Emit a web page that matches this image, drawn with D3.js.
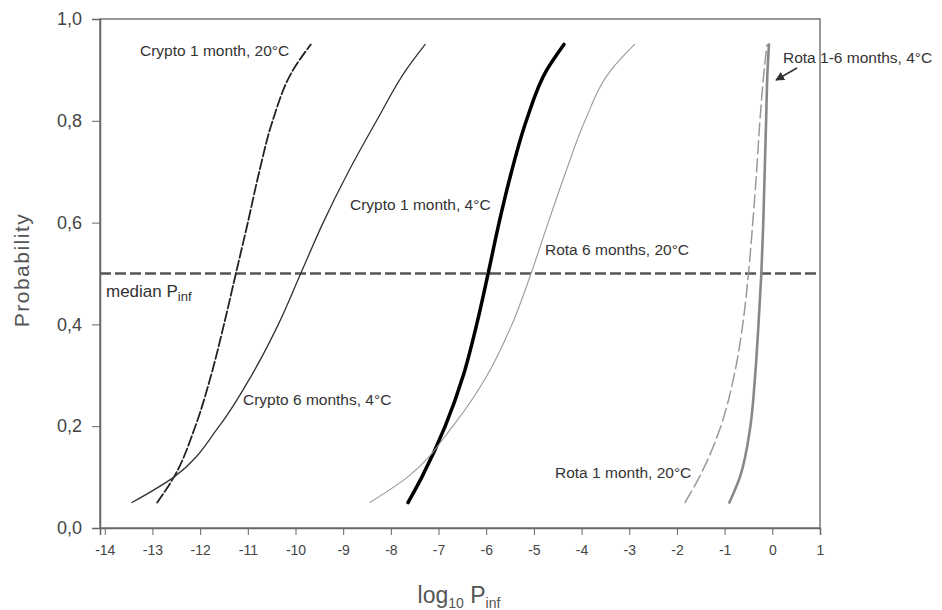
<!DOCTYPE html>
<html>
<head>
<meta charset="utf-8">
<script src="https://cdn.jsdelivr.net/npm/d3@7"></script>
<style>
  body { margin: 0; background: #fff; }
  svg { display: block; font-family: "Liberation Sans", Arial, sans-serif; }
</style>
</head>
<body>
<svg width="942" height="610"></svg>
<script>
// probability levels shared by all curves
let probLevels = [0.05, 0.1, 0.2, 0.3, 0.4, 0.5, 0.6, 0.7, 0.8, 0.9, 0.95];

// log10 Pinf at each probability level
let crypto1m20 = [-12.9, -12.55, -12.1, -11.77, -11.5, -11.25, -11.0, -10.76, -10.48, -10.05, -9.68];
let crypto6m4 = [-13.43, -12.55, -11.6, -10.92, -10.36, -9.89, -9.42, -8.89, -8.3, -7.68, -7.28];
let crypto1m4 = [-7.64, -7.35, -6.86, -6.48, -6.2, -5.96, -5.73, -5.47, -5.16, -4.73, -4.37];
let rota6m20 = [-8.44, -7.65, -6.7, -5.98, -5.46, -5.06, -4.7, -4.33, -3.93, -3.38, -2.89];
let rota1m20 = [-1.83, -1.53, -1.08, -0.8, -0.62, -0.5, -0.41, -0.33, -0.26, -0.17, -0.11];
let rota16m4 = [-0.9, -0.68, -0.46, -0.36, -0.29, -0.23, -0.19, -0.16, -0.13, -0.1, -0.07];

let medianProb = 0.5;

let xTickValues = [-14, -13, -12, -11, -10, -9, -8, -7, -6, -5, -4, -3, -2, -1, 0, 1];
let yTickValues = [0, 0.2, 0.4, 0.6, 0.8, 1.0];

let svg = d3.select("svg"),
    plotLeft = 100, plotRight = 820, plotTop = 19, plotBottom = 528;

let x = d3.scaleLinear().domain([-14.1, 1]).range([plotLeft, plotRight]),
    y = d3.scaleLinear().domain([0, 1]).range([plotBottom, plotTop]);

// frame
svg.append("rect")
    .attr("x", plotLeft).attr("y", plotTop)
    .attr("width", plotRight - plotLeft).attr("height", plotBottom - plotTop)
    .attr("fill", "none").attr("stroke", "#777").attr("stroke-width", 1.5);

// x axis
let gx = svg.append("g")
    .attr("transform", "translate(0," + plotBottom + ")")
    .call(d3.axisBottom(x).tickValues(xTickValues).tickSize(7).tickPadding(10)
        .tickFormat(function (d) { return String(d); }));
gx.select(".domain").attr("stroke", "#666").attr("stroke-width", 1.5);
gx.selectAll(".tick line").attr("stroke", "#666");
gx.selectAll(".tick text").attr("font-size", 14).attr("fill", "#444")
    .attr("font-family", "Liberation Sans, Arial, sans-serif");

// y axis
let gy = svg.append("g")
    .attr("transform", "translate(" + plotLeft + ",0)")
    .call(d3.axisLeft(y).tickValues(yTickValues).tickSize(8).tickPadding(10)
        .tickFormat(function (d) { return d3.format(".1f")(d).replace(".", ","); }));
gy.select(".domain").attr("stroke", "#666").attr("stroke-width", 1.5);
gy.selectAll(".tick line").attr("stroke", "#666");
gy.selectAll(".tick text").attr("font-size", 18).attr("fill", "#444")
    .attr("font-family", "Liberation Sans, Arial, sans-serif");

// axis titles
svg.append("text")
    .attr("transform", "translate(29,270) rotate(-90)")
    .attr("text-anchor", "middle")
    .attr("font-size", 21).attr("letter-spacing", 1.5).attr("fill", "#555")
    .text("Probability");

let xt = svg.append("text")
    .attr("x", 459).attr("y", 603)
    .attr("text-anchor", "middle")
    .attr("font-size", 23).attr("fill", "#555");
xt.append("tspan").text("log");
xt.append("tspan").attr("font-size", 14).attr("dy", 5).text("10");
xt.append("tspan").attr("dy", -5).text(" P");
xt.append("tspan").attr("font-size", 14).attr("dy", 5).text("inf");

// median line
svg.append("line")
    .attr("x1", x.range()[0]).attr("x2", x.range()[1])
    .attr("y1", y(medianProb)).attr("y2", y(medianProb))
    .attr("stroke", "#555").attr("stroke-width", 2.5)
    .attr("stroke-dasharray", "11,4");

// curves
let series = [
    {name: "crypto1m20", vals: crypto1m20, color: "#222", width: 1.8, dash: "10,3"},
    {name: "crypto6m4", vals: crypto6m4, color: "#333", width: 1.3, dash: null},
    {name: "crypto1m4", vals: crypto1m4, color: "#000", width: 3.5, dash: null},
    {name: "rota6m20", vals: rota6m20, color: "#999", width: 1.1, dash: null},
    {name: "rota1m20", vals: rota1m20, color: "#999", width: 1.5, dash: "13,5"},
    {name: "rota16m4", vals: rota16m4, color: "#888", width: 2.6, dash: null}
];

let line = d3.line()
    .x(function (d) { return x(d[0]); })
    .y(function (d) { return y(d[1]); })
    .curve(d3.curveMonotoneY);

svg.selectAll(".curve")
    .data(series)
    .enter().append("path")
    .attr("class", "curve")
    .attr("fill", "none")
    .attr("stroke", function (d) { return d.color; })
    .attr("stroke-width", function (d) { return d.width; })
    .attr("stroke-dasharray", function (d) { return d.dash; })
    .attr("stroke-linecap", "round")
    .attr("d", function (d) {
        return line(d.vals.map(function (v, i) { return [v, probLevels[i]]; }));
    });

// labels
let labels = [
    {t: "Crypto 1 month, 20°C", x: 140, y: 56},
    {t: "Crypto 1 month, 4°C", x: 350, y: 210},
    {t: "Rota 6 months, 20°C", x: 545, y: 255},
    {t: "Rota 1-6 months, 4°C", x: 783, y: 63},
    {t: "Crypto 6 months, 4°C", x: 243, y: 405},
    {t: "Rota 1 month, 20°C", x: 555, y: 478}
];
svg.selectAll(".lbl")
    .data(labels)
    .enter().append("text")
    .attr("class", "lbl")
    .attr("x", function (d) { return d.x; })
    .attr("y", function (d) { return d.y; })
    .attr("font-size", 15.5).attr("fill", "#333")
    .text(function (d) { return d.t; });

let med = svg.append("text")
    .attr("x", 106).attr("y", 297)
    .attr("font-size", 17).attr("fill", "#333");
med.append("tspan").text("median P");
med.append("tspan").attr("font-size", 13).attr("dy", 4).text("inf");

// arrow to the Rota 1-6 months curve
svg.append("defs").append("marker")
    .attr("id", "ah").attr("viewBox", "0 0 10 10")
    .attr("refX", 9).attr("refY", 5)
    .attr("markerWidth", 6).attr("markerHeight", 6)
    .attr("orient", "auto")
    .append("path").attr("d", "M0,0L10,5L0,10z").attr("fill", "#333");
svg.append("line")
    .attr("x1", 797).attr("y1", 68).attr("x2", 776).attr("y2", 80)
    .attr("stroke", "#333").attr("stroke-width", 1.5)
    .attr("marker-end", "url(#ah)");
</script>
</body>
</html>
